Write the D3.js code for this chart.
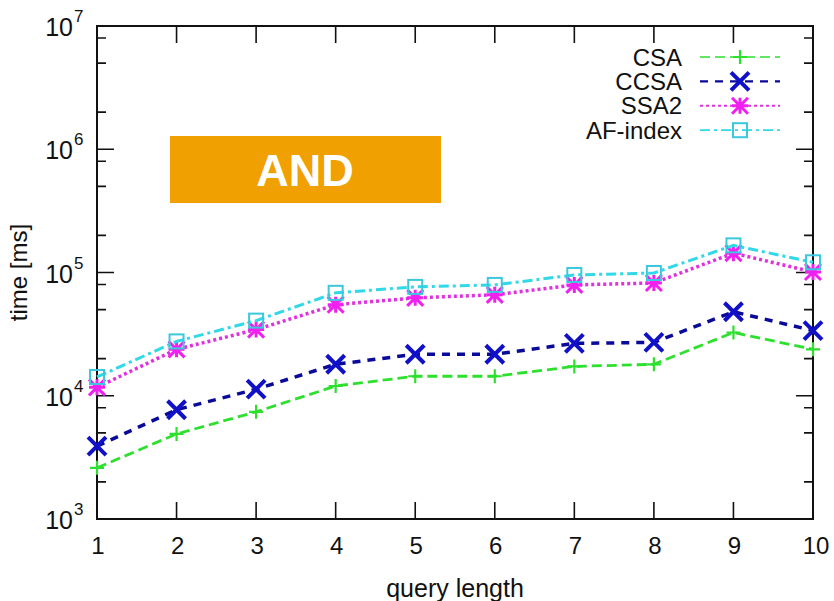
<!DOCTYPE html>
<html>
<head>
<meta charset="utf-8">
<script src="https://cdn.jsdelivr.net/npm/d3@7/dist/d3.min.js"></script>
<style>
    body { margin: 0; background: #fff; }
    svg text { font-family: "Liberation Sans", Arial, sans-serif; fill: #111; }
</style>
</head>
<body>
<div id="chart"></div>
<script>

var queryLengths = [1, 2, 3, 4, 5, 6, 7, 8, 9, 10];

var csa     = [2600, 4900, 7400, 12000, 14400, 14400, 17300, 18000, 32600, 23800];
var ccsa    = [3900, 7700, 11300, 18000, 21700, 21700, 26600, 27100, 48000, 33800];
var ssa2    = [11700, 23800, 34400, 54700, 62300, 65900, 79300, 82200, 143500, 101000];
var afIndex = [14200, 27600, 40700, 68400, 76400, 79300, 95500, 99100, 166000, 121000];

var seriesNames = ["CSA", "CCSA", "SSA2", "AF-index"];
var yMajorTicks = [1e3, 1e4, 1e5, 1e6, 1e7];
var yMinorSteps = [2, 5, 8];
var bannerText = "AND";

var W = 834, H = 601;
var margin = {top: 26, right: 21, bottom: 82, left: 97}
    , width = W - margin.left - margin.right
    , height = H - margin.top - margin.bottom;

var svg = d3.select("#chart")
    .append("svg")
    .attr("width", W)
    .attr("height", H);

var g = svg.append("g")
    .attr("transform", "translate(" + margin.left + "," + margin.top + ")");

var x = d3.scaleLinear()
    .domain([1, 10])
    .range([0, width]);

var y = d3.scaleLog()
    .domain([1e3, 1e7])
    .range([height, 0]);

// series styles (gnuplot-ish)
var styles = [
    {data: csa,     color: "#2ee02e", mark: "#2ee02e", dash: "10,5",       lw: 2.8, point: "plus"},
    {data: ccsa,    color: "#0a0a9a", mark: "#1010c8", dash: "8,7",        lw: 3.5, point: "cross"},
    {data: ssa2,    color: "#e030e0", mark: "#f020f0", dash: "3,3",        lw: 3.5, point: "star"},
    {data: afIndex, color: "#30d8e8", mark: "#3cc8dc", dash: "10,4,3,4",   lw: 3,   point: "square"}
];

// minor y ticks
var minorVals = [];
yMajorTicks.slice(0, -1).forEach(function(v) {
    yMinorSteps.forEach(function(m) { minorVals.push(v * m); });
});

var tickG = g.append("g").attr("class", "ticks")
    .attr("stroke", "#111")
    .attr("stroke-width", 1.6);

tickG.selectAll(".ymaj").data(yMajorTicks).enter()
    .append("path")
    .attr("d", d => "M0," + y(d) + "h17M" + width + "," + y(d) + "h-17");

tickG.selectAll(".ymin").data(minorVals).enter()
    .append("path")
    .attr("d", d => "M0," + y(d) + "h9M" + width + "," + y(d) + "h-9");

tickG.selectAll(".xmaj").data(queryLengths).enter()
    .append("path")
    .attr("d", d => "M" + x(d) + "," + height + "v-17M" + x(d) + ",0v17");

// frame
g.append("rect")
    .attr("width", width)
    .attr("height", height)
    .attr("fill", "none")
    .attr("stroke", "#111")
    .attr("stroke-width", 2);

// y tick labels 10^n
var ylab = g.append("g").attr("class", "ylabels");
yMajorTicks.forEach(function(v) {
    var yy = y(v);
    ylab.append("text")
        .attr("x", -24)
        .attr("y", yy + 10)
        .attr("text-anchor", "end")
        .attr("font-size", 25)
        .text("10");
    ylab.append("text")
        .attr("x", -23)
        .attr("y", yy - 4)
        .attr("font-size", 17)
        .text(Math.round(Math.log10(v)));
});

// x tick labels
g.append("g").selectAll("text").data(queryLengths).enter()
    .append("text")
    .attr("x", d => x(d) + (d === 10 ? 3 : 1))
    .attr("y", height + 35)
    .attr("text-anchor", "middle")
    .attr("font-size", 24)
    .text(d => d);

// axis titles
svg.append("text")
    .attr("x", margin.left + width / 2)
    .attr("y", 597)
    .attr("text-anchor", "middle")
    .attr("font-size", 25)
    .text("query length");

svg.append("text")
    .attr("transform", "translate(27," + (margin.top + height / 2) + ") rotate(-90)")
    .attr("text-anchor", "middle")
    .attr("font-size", 24)
    .text("time [ms]");

var line_gen = d3.line()
    .x((d, i) => x(queryLengths[i]))
    .y(d => y(d));

function drawPoint(sel, type, color) {
    var s = 7;
    if (type === "plus") {
        sel.append("path")
            .attr("d", "M" + (-s) + ",0H" + s + "M0," + (-s) + "V" + s)
            .attr("stroke", color).attr("stroke-width", 2.2).attr("fill", "none");
    } else if (type === "cross") {
        s = 9;
        sel.append("path")
            .attr("d", "M" + (-s) + "," + (-s) + "L" + s + "," + s + "M" + s + "," + (-s) + "L" + (-s) + "," + s)
            .attr("stroke", color).attr("stroke-width", 4).attr("fill", "none");
    } else if (type === "star") {
        s = 8;
        sel.append("path")
            .attr("d", "M" + (-s) + "," + (-s) + "L" + s + "," + s + "M" + s + "," + (-s) + "L" + (-s) + "," + s +
                "M0," + (-s) + "V" + s + "M" + (-s) + ",0H" + s)
            .attr("stroke", color).attr("stroke-width", 3).attr("fill", "none");
    } else {
        sel.append("rect")
            .attr("x", -7).attr("y", -7).attr("width", 14).attr("height", 14)
            .attr("stroke", color).attr("stroke-width", 2).attr("fill", "none");
    }
}

var plot_g = g.append("g").attr("class", "series");

styles.forEach(function(st) {
    plot_g.append("path")
        .attr("d", line_gen(st.data))
        .attr("fill", "none")
        .attr("stroke", st.color)
        .attr("stroke-width", st.lw)
        .attr("stroke-dasharray", st.dash);

    st.data.forEach(function(v, i) {
        var pg = plot_g.append("g")
            .attr("transform", "translate(" + x(queryLengths[i]) + "," + y(v) + ")");
        drawPoint(pg, st.point, st.mark);
    });
});

// legend
var legend = svg.append("g").attr("class", "legend");
seriesNames.forEach(function(name, i) {
    var st = styles[i]
        , ly = 57 + i * 24.4;
    legend.append("text")
        .attr("x", 682)
        .attr("y", ly + 8.5)
        .attr("text-anchor", "end")
        .attr("font-size", 24)
        .text(name);
    legend.append("path")
        .attr("d", "M700," + ly + "H780")
        .attr("stroke", st.color)
        .attr("stroke-width", st.lw * 0.6)
        .attr("stroke-dasharray", st.dash);
    drawPoint(legend.append("g").attr("transform", "translate(740," + ly + ")"), st.point, st.mark);
});

// orange banner
svg.append("rect")
    .attr("x", 170)
    .attr("y", 136)
    .attr("width", 271)
    .attr("height", 67)
    .attr("fill", "#f0a000");

svg.append("text")
    .attr("x", 305)
    .attr("y", 186)
    .attr("text-anchor", "middle")
    .attr("font-size", 45)
    .attr("font-weight", "bold")
    .style("fill", "#fff")
    .text(bannerText);

</script>
</body>
</html>
